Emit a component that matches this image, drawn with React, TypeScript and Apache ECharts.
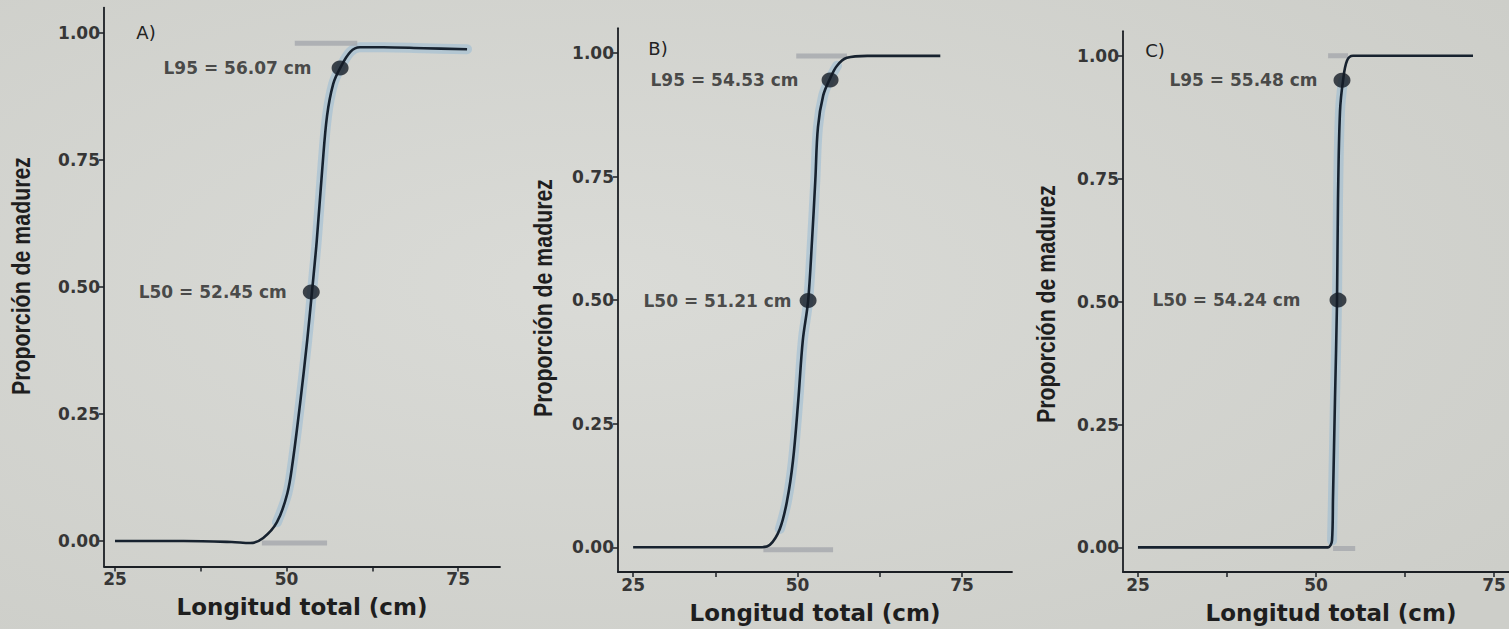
import React, { useEffect, useRef } from "react";
import * as echarts from "echarts";

// ---------- Data ----------
// Panel A
const curveAx = [25, 35, 42, 44.7, 46.6, 48.6, 50.1, 50.9, 52.0, 53.0, 53.7, 54.4, 55.2, 55.9, 56.8, 57.8, 59.3, 60.7, 64.1, 70, 76.3];
const curveAy = [0, 0, -0.002, -0.004, 0.006, 0.037, 0.093, 0.156, 0.274, 0.394, 0.49, 0.591, 0.732, 0.837, 0.9, 0.931, 0.963, 0.972, 0.972, 0.97, 0.968];
const dotsAx = [57.8, 53.6];
const dotsAy = [0.931, 0.49];
const labelsA = ["L95 = 56.07 cm", "L50 = 52.45 cm"];
const grayTopA = [[51.2, 0.98], [60.3, 0.98]];
const grayBotA = [[46.4, -0.004], [55.9, -0.004]];

// Panel B
const curveBx = [25, 35, 42, 44.3, 45.8, 47.3, 48.4, 49.3, 50.1, 50.8, 51.6, 52.2, 52.7, 53.1, 53.9, 54.9, 56.0, 57.5, 60.6, 66, 71.7];
const curveBy = [0, 0, 0, 0, 0.005, 0.037, 0.094, 0.175, 0.296, 0.419, 0.498, 0.621, 0.743, 0.85, 0.914, 0.947, 0.974, 0.99, 0.994, 0.994, 0.994];
const dotsBx = [54.94, 51.6];
const dotsBy = [0.945, 0.499];
const labelsB = ["L95 = 54.53 cm", "L50 = 51.21 cm"];
const grayTopB = [[49.8, 0.994], [57.5, 0.994]];
const grayBotB = [[44.8, -0.005], [55.4, -0.005]];

// Panel C
const curveCx = [25, 35, 45, 51.0, 51.69, 52.25, 52.39, 52.67, 52.95, 53.09, 53.37, 53.79, 54.35, 55.2, 58, 65, 72.05];
const curveCy = [0, 0, 0, 0, 0, 0.014, 0.103, 0.304, 0.499, 0.708, 0.887, 0.949, 0.99, 1.0, 1.0, 1.0, 1.0];
const dotsCx = [53.65, 53.09];
const dotsCy = [0.95, 0.503];
const labelsC = ["L95 = 55.48 cm", "L50 = 54.24 cm"];
const grayTopC = [[51.7, 1.0], [54.5, 1.0]];
const grayBotC = [[52.4, -0.002], [55.5, -0.002]];

const panelTags = ["A)", "B)", "C)"];
const yTicks = [0, 0.25, 0.5, 0.75, 1];
const xLabelTicks = [25, 50, 75];
const xAllTicks = [25, 37.5, 50, 62.5, 75];
const xTitle = "Longitud total (cm)";
const yTitle = "Proporción de madurez";

// ---------- Layout / style ----------
const grids = [
  { left: 104, top: 7.6, width: 396, height: 558.8, xmin: 23.4, xmax: 81.1, namePad: 0 },
  { left: 618, top: 28.2, width: 394, height: 545, xmin: 22.7, xmax: 82.6, namePad: 0 },
  { left: 1123, top: 31.2, width: 386, height: 546.7, xmin: 22.9, xmax: 77.1, namePad: 30 },
];
const labelDist = [
  [20, 16],
  [23, 8],
  [16, 29],
];
const tagPos = [
  [146, 32],
  [658, 48],
  [1155, 50],
];
const yTitlePos = [
  [21, 276],
  [543, 298],
  [1046, 304],
];

const INK = "#1b1f24";
const CURVE = "#17222f";

function zip(xs: number[], ys: number[]) {
  return xs.map((x, i) => [x, ys[i]]);
}

export default function App() {
  const ref = useRef<HTMLDivElement>(null);

  useEffect(() => {
    if (!ref.current) return;
    const chart = echarts.init(ref.current, null, { renderer: "svg" });

    const panels = [
      { cx: curveAx, cy: curveAy, dx: dotsAx, dy: dotsAy, lab: labelsA, gt: grayTopA, gb: grayBotA },
      { cx: curveBx, cy: curveBy, dx: dotsBx, dy: dotsBy, lab: labelsB, gt: grayTopB, gb: grayBotB },
      { cx: curveCx, cy: curveCy, dx: dotsCx, dy: dotsCy, lab: labelsC, gt: grayTopC, gb: grayBotC },
    ];

    const series: any[] = [];
    panels.forEach((p, i) => {
      const curve = zip(p.cx, p.cy);
      const band = curve.filter((d) => d[1] > 0.01 && d[1] < 0.985);
      series.push({
        type: "line",
        xAxisIndex: i,
        yAxisIndex: i,
        data: band,
        showSymbol: false,
        smooth: 0.35,
        lineStyle: { color: "rgba(140,182,212,0.45)", width: 10, cap: "round" },
        z: 1,
        silent: true,
      });
      [p.gt, p.gb].forEach((g) => {
        series.push({
          type: "line",
          xAxisIndex: i,
          yAxisIndex: i,
          data: g,
          showSymbol: false,
          lineStyle: { color: "rgba(165,168,172,0.8)", width: 5 },
          z: 2,
          silent: true,
        });
      });
      series.push({
        type: "line",
        xAxisIndex: i,
        yAxisIndex: i,
        data: curve,
        showSymbol: false,
        smooth: 0.35,
        lineStyle: { color: CURVE, width: 2.6 },
        z: 3,
      });
      series.push({
        type: "scatter",
        xAxisIndex: i,
        yAxisIndex: i,
        symbol: "circle",
        symbolSize: [17, 15],
        itemStyle: { color: "#141c26" },
        z: 4,
        data: p.dx.map((x, k) => ({
          value: [x, p.dy[k]],
          name: p.lab[k],
          label: { distance: labelDist[i][k] },
        })),
        label: {
          show: true,
          position: "left",
          formatter: (d: any) => d.name,
          fontFamily: "DejaVu Sans",
          fontWeight: "bold",
          fontSize: 17,
          color: "#242424",
        },
      });
    });

    const graphic: any[] = [
      {
        type: "rect",
        z: -10,
        silent: true,
        shape: { x: 0, y: 0, width: 1509, height: 629 },
        style: {
          fill: {
            type: "radial",
            x: 0.4,
            y: 0.45,
            r: 0.75,
            colorStops: [
              { offset: 0, color: "#dadbd7" },
              { offset: 1, color: "#cdcec9" },
            ],
          },
        },
      },
    ];
    panelTags.forEach((t, i) => {
      graphic.push({
        type: "text",
        x: tagPos[i][0],
        y: tagPos[i][1],
        style: {
          text: t,
          fontFamily: "DejaVu Sans",
          fontSize: 18,
          fill: "#222",
          align: "center",
          verticalAlign: "middle",
        },
      });
      graphic.push({
        type: "text",
        x: yTitlePos[i][0],
        y: yTitlePos[i][1],
        rotation: Math.PI / 2,
        scaleX: 0.82,
        style: {
          text: yTitle,
          fontFamily: "Liberation Sans",
          fontWeight: "bold",
          fontSize: 26,
          fill: "#1e1e1e",
          align: "center",
          verticalAlign: "middle",
        },
      });
    });

    const option: any = {
      animation: false,
      backgroundColor: "#d5d6d2",
      grid: grids.map((g) => ({
        left: g.left,
        top: g.top,
        width: g.width,
        height: g.height,
        containLabel: false,
      })),
      xAxis: grids.map((g, i) => ({
        type: "value",
        gridIndex: i,
        min: g.xmin,
        max: g.xmax,
        splitLine: { show: false },
        axisLine: { show: true, onZero: false, lineStyle: { color: INK, width: 1.8 } },
        axisTick: { show: true, length: 5, customValues: xAllTicks, lineStyle: { color: INK, width: 1.5 } },
        axisLabel: {
          customValues: xLabelTicks,
          margin: 4,
          fontFamily: "DejaVu Sans",
          fontWeight: "bold",
          fontSize: 17,
          color: "#363636",
        },
        name: xTitle,
        nameLocation: "middle",
        nameGap: 29,
        nameTextStyle: {
          fontFamily: "DejaVu Sans",
          fontWeight: "bold",
          fontSize: 23,
          color: "#1e1e1e",
          padding: [0, 0, 0, g.namePad],
        },
      })),
      yAxis: grids.map((g, i) => ({
        type: "value",
        gridIndex: i,
        min: -0.05,
        max: 1.05,
        splitLine: { show: false },
        axisLine: { show: true, onZero: false, lineStyle: { color: INK, width: 1.8 } },
        axisTick: { show: true, length: 5, customValues: yTicks, lineStyle: { color: INK, width: 1.5 } },
        axisLabel: {
          customValues: yTicks,
          formatter: (v: number) => v.toFixed(2),
          margin: 4,
          fontFamily: "DejaVu Sans",
          fontWeight: "bold",
          fontSize: 17,
          color: "#363636",
        },
      })),
      series,
      graphic,
    };

    chart.setOption(option);
    return () => chart.dispose();
  }, []);

  return (
    <div
      ref={ref}
      style={{ position: "absolute", left: 0, top: 0, width: 1509, height: 629 }}
    />
  );
}
